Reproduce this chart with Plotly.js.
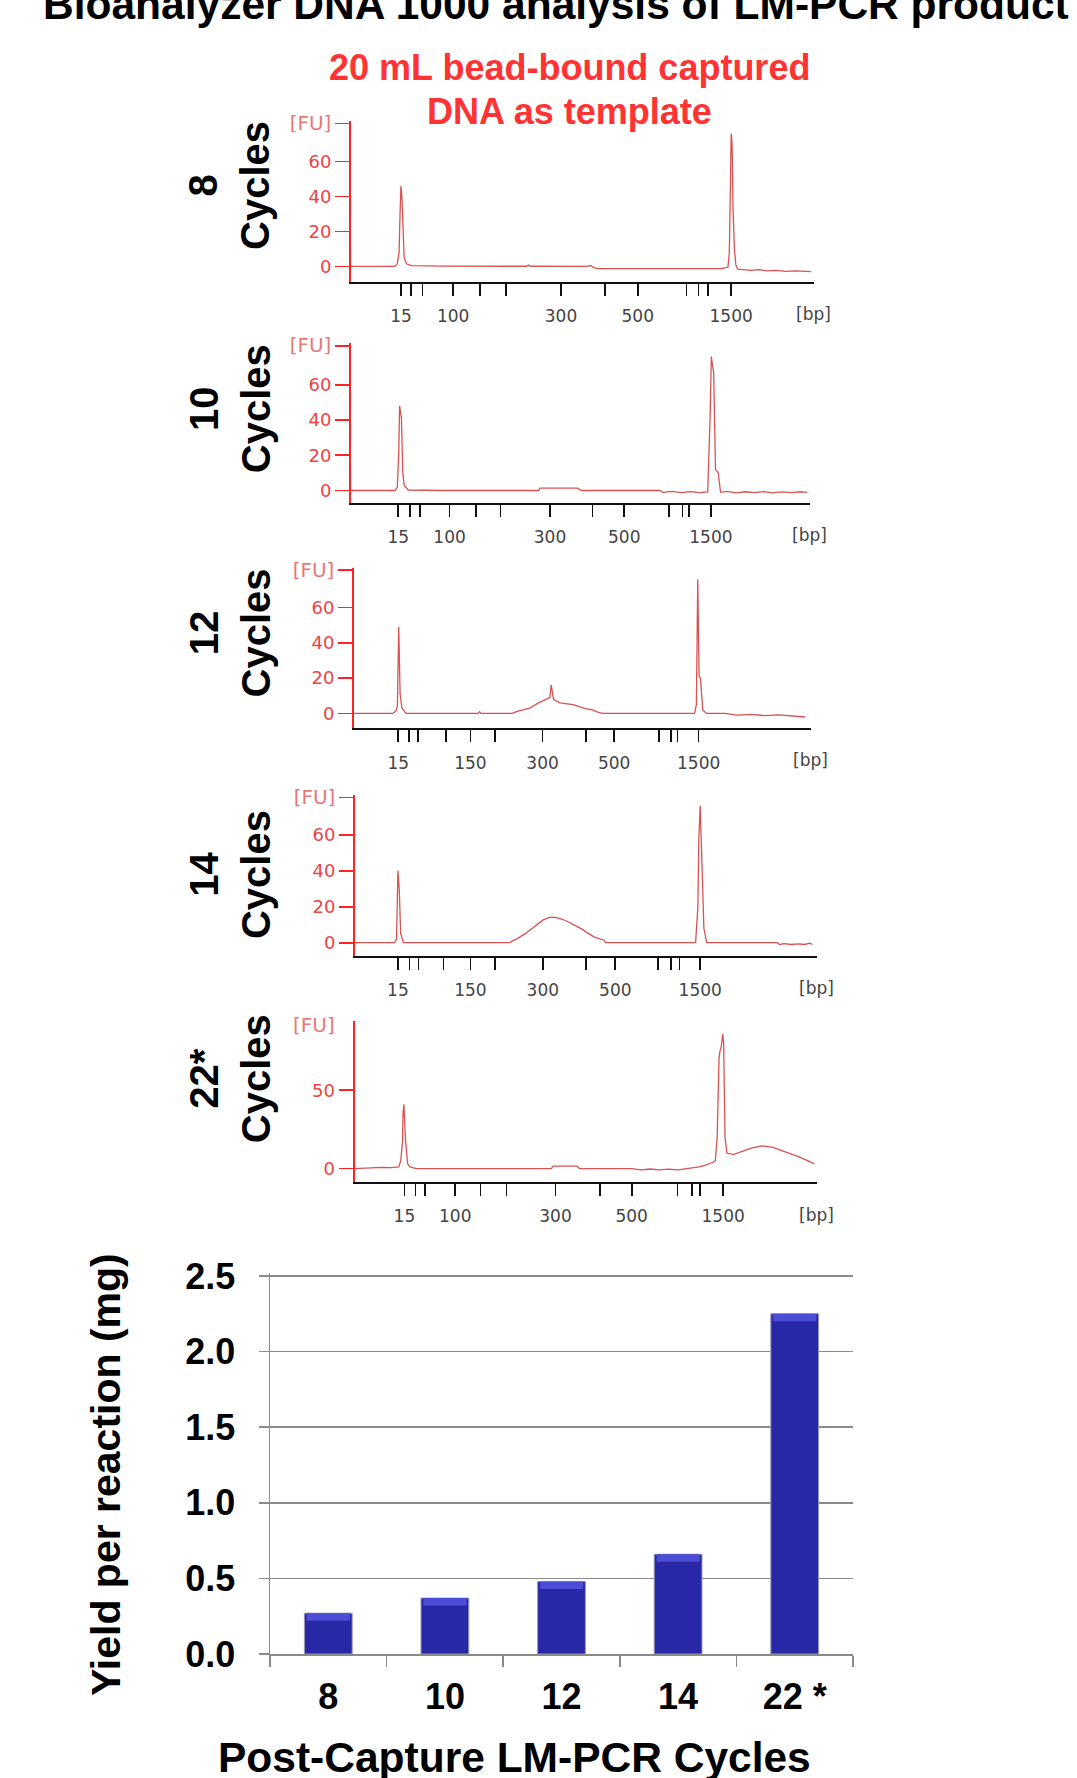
<!DOCTYPE html>
<html><head><meta charset="utf-8">
<script src="https://cdn.plot.ly/plotly-3.0.1.min.js"></script>
<style>html,body{margin:0;padding:0;background:#fff;} #chart{width:1077px;height:1778px;}</style>
</head><body><div id="chart"></div>
<script>
// ---------- DATA ----------
const ladderBp = [15, 25, 50, 100, 150, 200, 300, 400, 500, 700, 850, 1000, 1500];
// ladder migration positions (% of run window) for each run
const ladderTime8  = [10.8, 13.0, 15.5, 22.1, 27.9, 33.5, 45.4, 54.9, 62.0, 72.5, 75.1, 77.2, 82.2];
const ladderTime10 = [10.3, 12.9, 15.0, 21.5, 27.2, 32.6, 43.4, 52.7, 59.6, 69.4, 72.3, 73.7, 78.5];
const ladderTime12 = [9.7, 12.1, 14.0, 20.1, 25.5, 30.9, 41.3, 50.8, 57.0, 66.8, 69.5, 70.9, 75.5];
const ladderTime14 = [9.3, 11.8, 13.8, 19.2, 25.0, 30.3, 40.7, 50.1, 56.4, 65.6, 68.5, 70.3, 74.8];
const ladderTime22 = [10.8, 13.2, 15.3, 21.8, 27.3, 32.9, 43.5, 53.1, 60.0, 69.9, 73.0, 74.8, 79.8];

const labelledBpA = [15, 100, 300, 500, 1500];
const labelledBpB = [15, 150, 300, 500, 1500];
const fuTicks = [0, 20, 40, 60];
const fuTicks22 = [0, 50];

const time8 = [0, 9.5, 10.0, 10.4, 10.6, 10.8, 11.0, 11.2, 11.5, 12.0, 13.0, 20.0, 38.0, 38.4, 38.8, 51.0, 51.8, 52.6, 53.5, 60.0, 70.0, 80.0, 81.5, 81.8, 82.0, 82.2, 82.4, 82.6, 82.9, 83.2, 83.6, 85.0, 86.5, 88.0, 90.0, 92.0, 94.0, 96.0, 99.5];
const fu8   = [0, 0, 1.5, 8, 30, 46, 40, 20, 5, 1.5, 0.5, 0.2, 0.1, 0.8, 0.1, 0, 0.6, -0.8, -1.3, -1.3, -1.3, -1.3, -0.5, 8, 40, 76, 70, 33, 10, 1, -1.5, -1.7, -2.2, -1.8, -2.5, -2.2, -2.8, -2.5, -3];

const time10 = [0, 9.6, 10.1, 10.4, 10.6, 11.0, 11.3, 11.6, 12.5, 20, 40.9, 41.2, 49.4, 50.3, 60, 67.4, 68, 70, 72, 74, 76, 77.8, 78.3, 78.6, 78.8, 79.1, 79.5, 80.1, 80.6, 82, 84, 86, 88, 90, 92, 94, 96, 98, 99.5];
const fu10   = [0, 0, 2, 20, 48, 41, 10, 3, 0.3, 0, 0, 1.3, 1.3, 0, 0, 0, -1, -0.5, -1.2, -0.6, -1.2, -0.8, 40, 76, 72, 67, 12, 10, -1, -0.5, -1.3, -0.7, -1.2, -0.6, -1.3, -0.8, -1.2, -0.7, -1];

const time12 = [0, 8.5, 9.2, 9.5, 9.8, 10.1, 10.5, 11.4, 20, 27.2, 27.5, 27.8, 34.7, 35.6, 37, 38.5, 40.4, 42.3, 42.9, 43.2, 43.5, 43.7, 45.1, 46.5, 48.0, 50.3, 52.2, 53.7, 54.6, 65, 74.6, 75.0, 75.3, 75.6, 75.9, 76.4, 77.2, 81.2, 84, 87, 90, 93, 96, 98.8];
const fu12   = [0, 0, 1.5, 4, 49, 11, 3, 0, 0, 0, 1, 0, 0, 1, 2, 3, 6, 8, 9, 16, 9, 8, 6, 5.5, 5, 3, 2, 0.5, 0, 0, 0, 5, 76, 21, 20, 2, 0, 0, -1, -0.5, -1.2, -0.8, -1.2, -2];

const time14 = [0, 8.6, 9.0, 9.1, 9.3, 9.6, 9.9, 10.5, 20, 33.5, 34.1, 35.0, 36.9, 38.8, 40.7, 42.1, 43.5, 44.9, 46.3, 47.7, 49.2, 50.6, 52.0, 53.2, 53.9, 54.3, 65, 73.8, 74.3, 74.5, 74.8, 75.0, 75.2, 75.6, 76.2, 85, 91.5, 92, 93, 94.5, 96, 97.5, 98.5, 99.1];
const fu14   = [0, 0, 2, 17, 40, 29, 5, 0, 0, 0, 1, 2, 5, 9, 12.5, 14, 14, 13, 11.5, 9.5, 7.5, 5, 3, 2, 1.5, 0, 0, 0, 20, 57, 76, 60, 43, 8, 0, 0, 0, -1, -0.5, -1, -0.7, -1, -0.3, -1];

const time22 = [0, 2, 4, 6, 8, 9.6, 10.0, 10.4, 10.5, 10.7, 11.0, 11.5, 12.0, 13.4, 30, 42.6, 43, 48.2, 48.7, 55, 60.0, 62, 64, 66, 68, 70, 71.3, 73, 74.6, 75.8, 76.9, 77.6, 78.1, 78.5, 78.9, 79.1, 79.4, 79.7, 79.9, 80.2, 80.6, 81.0, 82.1, 84.0, 85.9, 88.2, 90.6, 92.5, 94.4, 96.2, 98.1, 99.5];
const fu22   = [0, 0.3, 0.5, 0.8, 0.6, 1, 5, 17, 35, 41, 20, 3, 1, 0, 0, 0, 1.5, 1.5, 0, 0, 0, -0.8, -0.3, -0.9, -0.4, -0.9, -0.5, 0.5, 1, 2, 3, 4, 5, 20, 70, 75, 78, 86, 80, 20, 10, 9.5, 9, 11, 13, 14.5, 13.5, 11.5, 9.5, 7.5, 5, 3];

const runLabels = ['8', '10', '12', '14', '22*'];

const cycleLabels = ['8', '10', '12', '14', '22 *'];
const yieldUg = [0.27, 0.37, 0.48, 0.66, 2.25];

// ---------- LAYOUT ----------
const W = 1077, H = 1778;
const fx = p => p / W;
const fy = p => 1 - p / H;

const runs = [
  {time: time8,  fu: fu8,  ladder: ladderTime8,  labelled: labelledBpA, yt: fuTicks,   l: 351,   r: 813.5, t: 120.5, b: 281.5, yr: [-8.6, 83.4], fuAt: 81.7, labY: 313.5, rowY: 185.4},
  {time: time10, fu: fu10, ladder: ladderTime10, labelled: labelledBpA, yt: fuTicks,   l: 351,   r: 809.5, t: 343,   b: 502.5, yr: [-6.8, 83.7], fuAt: 82.0, labY: 534.5, rowY: 408.7},
  {time: time12, fu: fu12, ladder: ladderTime12, labelled: labelledBpB, yt: fuTicks,   l: 354,   r: 810.5, t: 567.5, b: 728.3, yr: [-8.4, 82.6], fuAt: 81.0, labY: 760,   rowY: 633},
  {time: time14, fu: fu14, ladder: ladderTime14, labelled: labelledBpB, yt: fuTicks,   l: 355,   r: 816.5, t: 794.5, b: 956,   yr: [-7.4, 82.3], fuAt: 80.6, labY: 988,   rowY: 874.6},
  {time: time22, fu: fu22, ladder: ladderTime22, labelled: labelledBpA, yt: fuTicks22, l: 354.5, r: 816.5, t: 1021,  b: 1182,  yr: [-8.6, 94.2], fuAt: null, labY: 1215,  rowY: 1078.7}
];

const traces = [];
const annotations = [];
const layout = {
  width: W, height: H,
  margin: {l: 0, r: 0, t: 0, b: 0},
  paper_bgcolor: '#ffffff', plot_bgcolor: 'rgba(0,0,0,0)',
  showlegend: false, hovermode: false, barmode: 'overlay',
  font: {family: 'DejaVu Sans, sans-serif', color: '#333'}
};

const smallFont = {family: 'DejaVu Sans, sans-serif', size: 17, color: '#444'};
const boldArial = (size, color) => ({family: 'Liberation Sans, Arial, sans-serif', size: size, color: color || '#000', weight: 'bold'});
const fuLabel = '<span style="color:#e87878;font-size:20px">[FU]</span>';

runs.forEach((p, i) => {
  const n = i + 1;
  const xa = 'x' + (n === 1 ? '' : n), ya = 'y' + (n === 1 ? '' : n);
  const xk = 'xaxis' + (n === 1 ? '' : n), yk = 'yaxis' + (n === 1 ? '' : n);
  traces.push({type: 'scatter', mode: 'lines', x: p.time, y: p.fu, xaxis: xa, yaxis: ya,
    line: {color: '#d85252', width: 1.3}, hoverinfo: 'skip'});
  layout[xk] = {
    domain: [fx(p.l), fx(p.r)], range: [0, 100], anchor: ya,
    showline: true, linecolor: '#111', linewidth: 2,
    ticks: 'outside', ticklen: 12, tickwidth: 1.6, tickcolor: '#111',
    tickmode: 'array', tickvals: p.ladder,
    ticktext: ladderBp.map(b => p.labelled.includes(b) ? String(b) : ''),
    tickangle: 0, tickfont: smallFont, ticklabelstandoff: 6,
    showgrid: false, zeroline: false, fixedrange: true
  };
  const tv = p.yt.slice(), tt = p.yt.map(String);
  if (p.fuAt !== null) { tv.push(p.fuAt); tt.push(fuLabel); }
  layout[yk] = {
    domain: [fy(p.b), fy(p.t)], range: p.yr, anchor: xa,
    showline: true, linecolor: '#ff2424', linewidth: 2,
    ticks: 'outside', ticklen: 14, tickwidth: 1.8, tickcolor: '#ff2424',
    tickmode: 'array', tickvals: tv, ticktext: tt,
    tickfont: {family: 'DejaVu Sans, sans-serif', size: 18, color: '#ee4444'},
    ticklabelstandoff: 0,
    showgrid: false, zeroline: false, fixedrange: true
  };
  annotations.push({xref: xa, yref: 'paper', x: 100, y: fy(p.labY), text: '[bp]', showarrow: false,
    xanchor: 'center', yanchor: 'middle', font: smallFont});
  annotations.push({xref: 'paper', yref: 'paper', x: fx(229.5), y: fy(p.rowY),
    text: runLabels[i] + '<br>Cycles', textangle: -90, showarrow: false,
    xanchor: 'center', yanchor: 'middle', font: boldArial(40)});
  if (p.fuAt === null) {
    annotations.push({xref: 'paper', yref: 'paper', x: fx(337), y: fy(1025), text: '[FU]', showarrow: false,
      xanchor: 'right', yanchor: 'middle', font: {family: 'DejaVu Sans, sans-serif', size: 20, color: '#e87878'}});
  }
});

// bar chart: bar body + lighter bevel band at the top of each bar
const bevel = 0.05;
traces.push({type: 'bar', x: cycleLabels, y: yieldUg, xaxis: 'x6', yaxis: 'y6', width: 0.41,
  marker: {color: '#2828a6', line: {color: '#9a9ab4', width: 1}}, hoverinfo: 'skip'});
traces.push({type: 'bar', x: cycleLabels, y: yieldUg.map(() => bevel), base: yieldUg.map(v => v - bevel),
  xaxis: 'x6', yaxis: 'y6', width: 0.37,
  marker: {color: '#4c4cd4', line: {width: 0}}, hoverinfo: 'skip'});
layout.xaxis6 = {
  domain: [fx(270), fx(853)], anchor: 'y6', type: 'category',
  showline: true, linecolor: '#8a8a8a', linewidth: 1.5,
  ticks: 'outside', tickson: 'boundaries', ticklen: 11, tickwidth: 1.5, tickcolor: '#8a8a8a',
  tickfont: boldArial(36), ticklabelstandoff: 10, showgrid: false, zeroline: false, fixedrange: true
};
layout.yaxis6 = {
  domain: [fy(1654), fy(1272.9)], anchor: 'x6', range: [0, 2.52], tick0: 0, dtick: 0.5, tickformat: '.1f',
  showline: true, linecolor: '#8a8a8a', linewidth: 1.5,
  ticks: 'outside', ticklen: 10, tickwidth: 1.5, tickcolor: '#8a8a8a',
  showgrid: true, gridcolor: '#8a8a8a', gridwidth: 1.5, zeroline: false,
  tickfont: boldArial(36), ticklabelstandoff: 16, fixedrange: true
};

annotations.push({xref: 'paper', yref: 'paper', x: fx(41), y: fy(4.5), xanchor: 'left', yanchor: 'middle',
  text: 'Bioanalyzer DNA 1000 analysis of LM-PCR product', showarrow: false, font: boldArial(42.5)});
annotations.push({xref: 'paper', yref: 'paper', x: fx(569), y: fy(68), xanchor: 'center', yanchor: 'middle',
  text: '20 mL bead-bound captured', showarrow: false, font: boldArial(36, '#ff3333')});
annotations.push({xref: 'paper', yref: 'paper', x: fx(569), y: fy(111), xanchor: 'center', yanchor: 'middle',
  text: 'DNA as template', showarrow: false, font: boldArial(36, '#ff3333')});
annotations.push({xref: 'paper', yref: 'paper', x: fx(106), y: fy(1475), xanchor: 'center', yanchor: 'middle',
  text: 'Yield per reaction (mg)', textangle: -90, showarrow: false, font: boldArial(41)});
annotations.push({xref: 'paper', yref: 'paper', x: fx(514), y: fy(1757), xanchor: 'center', yanchor: 'middle',
  text: 'Post-Capture LM-PCR Cycles', showarrow: false, font: boldArial(42.5)});

layout.annotations = annotations;

Plotly.newPlot('chart', traces, layout, {displayModeBar: false, staticPlot: true});
</script></body></html>
